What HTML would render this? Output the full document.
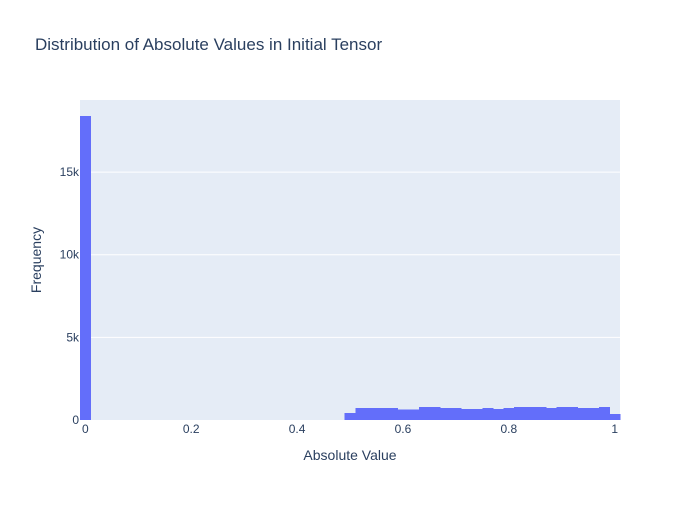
<!DOCTYPE html>
<html><head><meta charset="utf-8"><style>
body{margin:0;background:#fff;font-family:"Liberation Sans",Arial,sans-serif;}
text{font-family:"Liberation Sans",Arial,sans-serif;}
</style></head><body>
<svg id="chart" width="700" height="500">
<rect x="0" y="0" width="700" height="500" fill="#fff"/>
<text x="35" y="50" font-size="17" fill="#2a3f5f">Distribution of Absolute Values in Initial Tensor</text>
<rect x="80" y="100" width="540" height="320" fill="#e5ecf6"/>
<g id="grid"></g><g id="bars" shape-rendering="crispEdges"></g><g id="ticks"></g>
<text x="350" y="460" font-size="14" fill="#2a3f5f" text-anchor="middle">Absolute Value</text>
<text x="41" y="260" font-size="14" fill="#2a3f5f" text-anchor="middle" transform="rotate(-90 41 260)">Frequency</text>
</svg>
<script>
const binCenters=[0,0.5,0.52,0.54,0.56,0.58,0.6,0.62,0.64,0.66,0.68,0.7,0.72,0.74,0.76,0.78,0.8,0.82,0.84,0.86,0.88,0.9,0.92,0.94,0.96,0.98,1.0];
const counts=[18400,420,723,723,723,723,640,640,783,783,723,723,663,663,723,663,723,783,783,783,723,783,783,723,723,783,360];
const binWidth=0.02;
const xTicks=[0,0.2,0.4,0.6,0.8,1];
const xTickLabels=["0","0.2","0.4","0.6","0.8","1"];
const yTicks=[0,5000,10000,15000];
const yTickLabels=["0","5k","10k","15k"];
const NS="http://www.w3.org/2000/svg";
const X0=80,X1=620,Y0=420,Y1=100,xmin=-0.01,xmax=1.01,ymax=19360;
const xs=v=>X0+(v-xmin)/(xmax-xmin)*(X1-X0);
const ys=v=>Y0-v/ymax*(Y0-Y1);
const grid=document.getElementById('grid'),bars=document.getElementById('bars'),ticks=document.getElementById('ticks');
yTicks.forEach((t,i)=>{
 if(t>0){const l=document.createElementNS(NS,'line');
 l.setAttribute('x1',X0);l.setAttribute('x2',X1);l.setAttribute('y1',ys(t));l.setAttribute('y2',ys(t));
 l.setAttribute('stroke','#fff');l.setAttribute('stroke-width','1');
 
 
 grid.appendChild(l);}
 const tx=document.createElementNS(NS,'text');
 tx.setAttribute('x',79);tx.setAttribute('y',ys(t)+4);tx.setAttribute('text-anchor','end');
 tx.setAttribute('font-size','12');tx.setAttribute('fill','#2a3f5f');tx.textContent=yTickLabels[i];
 
 
 ticks.appendChild(tx);
});
xTicks.forEach((t,i)=>{
 const tx=document.createElementNS(NS,'text');
 tx.setAttribute('x',xs(t));tx.setAttribute('y',433);tx.setAttribute('text-anchor','middle');
 tx.setAttribute('font-size','12');tx.setAttribute('fill','#2a3f5f');tx.textContent=xTickLabels[i];
 
 
 ticks.appendChild(tx);
});
binCenters.forEach((c,i)=>{
 const r=document.createElementNS(NS,'rect');
 const a=xs(c-binWidth/2),b=xs(c+binWidth/2);
 r.setAttribute('x',a);r.setAttribute('width',b-a+0.5);
 r.setAttribute('y',ys(counts[i]));r.setAttribute('height',Y0-ys(counts[i]));
 r.setAttribute('fill','#636efa');
 
 
 bars.appendChild(r);
});
</script>
</body></html>
